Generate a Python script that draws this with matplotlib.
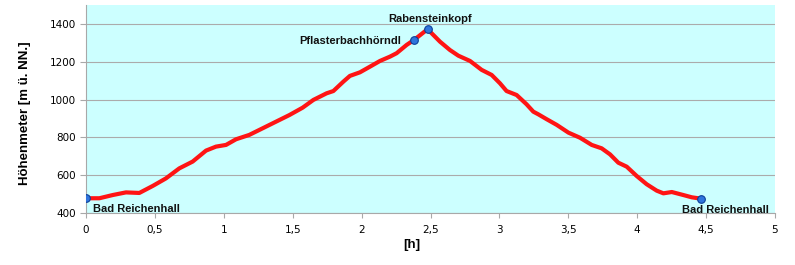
import matplotlib
matplotlib.use('Agg')
import matplotlib.pyplot as plt


# walking time [h] and altitude [m]
zeit = [0.0, 0.097, 0.194, 0.29, 0.387, 0.484, 0.58, 0.677, 0.774, 0.871,
        0.943, 1.016, 1.089, 1.185, 1.282, 1.379, 1.476, 1.572, 1.65, 1.746,
        1.795, 1.868, 1.915, 1.988, 2.061, 2.133, 2.206, 2.254, 2.327, 2.38,
        2.479, 2.569, 2.641, 2.702, 2.787, 2.871, 2.944, 3.004, 3.052, 3.125,
        3.197, 3.246, 3.282, 3.343, 3.416, 3.501, 3.585, 3.67, 3.742, 3.803,
        3.863, 3.924, 3.996, 4.069, 4.142, 4.19, 4.251, 4.335, 4.396, 4.461]
hoehe = [478, 478, 495, 509, 506, 543, 583, 636, 672, 730,
         751, 760, 790, 813, 848, 883, 918, 957, 998, 1033,
         1045, 1095, 1125, 1144, 1174, 1204, 1227, 1245, 1289, 1315,
         1372, 1306, 1262, 1232, 1204, 1157, 1130, 1086, 1045, 1024,
         975, 936, 922, 896, 866, 825, 798, 760, 742, 710,
         666, 645, 596, 552, 518, 504, 511, 495, 483, 476]

# named waypoints
orte = ['Bad Reichenhall', 'Pflasterbachhörndl', 'Rabensteinkopf', 'Bad Reichenhall']
orte_zeit = [0.0, 2.38, 2.479, 4.461]
orte_hoehe = [478, 1315, 1372, 476]

x_ticks = [0, 0.5, 1, 1.5, 2, 2.5, 3, 3.5, 4, 4.5, 5]
x_ticklabels = ['0', '0,5', '1', '1,5', '2', '2,5', '3', '3,5', '4', '4,5', '5']
y_ticks = [400, 600, 800, 1000, 1200, 1400]


fig = plt.figure(figsize=(7.95, 2.65), dpi=100)
ax = fig.add_axes([86/795, 52/265, 689/795, 208/265])
ax.set_facecolor('#ccffff')

ax.plot(zeit, hoehe, color='#ff1414', linewidth=3, solid_capstyle='round',
        solid_joinstyle='round', zorder=3)
ax.plot(orte_zeit, orte_hoehe, 'o', markersize=5.5, color='#2f74dc',
        markeredgecolor='#0c3f99', markeredgewidth=0.8, zorder=4)

ax.set_xlim(0, 5)
ax.set_ylim(400, 1500)
ax.set_xticks(x_ticks)
ax.set_xticklabels(x_ticklabels)
ax.set_yticks(y_ticks)
ax.grid(axis='y', color='#ababab', linewidth=0.8)
ax.set_axisbelow(True)

for s in ['top', 'right']:
    ax.spines[s].set_visible(False)
for s in ['left', 'bottom']:
    ax.spines[s].set_color('#a8a8a8')
    ax.spines[s].set_linewidth(0.8)

ax.tick_params(axis='y', length=4.5, width=0.8, color='#a8a8a8', pad=2.6, labelsize=7.5)
ax.tick_params(axis='x', length=3.75, width=0.8, color='#a8a8a8', pad=5, labelsize=7.5)

lab = dict(family='Liberation Sans', weight='bold', size=8, color='#111111', clip_on=False, zorder=5)
ax.text(0.053, 404, orte[0], ha='left', va='baseline', **lab)
ax.text(2.286, 1293, orte[1], ha='right', va='baseline', **lab)
ax.text(2.495, 1409, orte[2], ha='center', va='baseline', **lab)
ax.text(4.323, 398, orte[3], ha='left', va='baseline', **lab)

ax.text(-0.0885, 0.481, 'Höhenmeter [m ü. NN.]', transform=ax.transAxes, rotation=90,
        ha='center', va='center', family='Liberation Sans', weight='bold', size=9.5)
ax.text(0.473, -0.154, '[h]', transform=ax.transAxes, ha='center', va='center',
        family='Liberation Sans', weight='bold', size=9.5)

plt.savefig('out.png', dpi=100)
